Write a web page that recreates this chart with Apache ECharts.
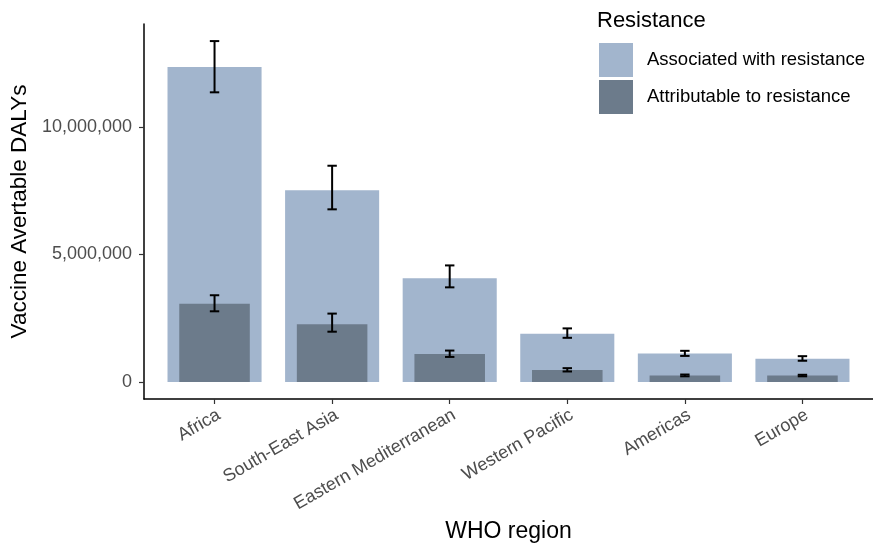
<!DOCTYPE html>
<html>
<head>
<meta charset="utf-8">
<script src="https://cdn.jsdelivr.net/npm/echarts@6/dist/echarts.min.js"></script>
<style>html,body{margin:0;padding:0;background:#fff}#c{width:873px;height:552px}</style>
</head>
<body>
<div id="c"></div>
<script>
var regions = ['Africa', 'South-East Asia', 'Eastern Mediterranean', 'Western Pacific', 'Americas', 'Europe'];
var associated = [12350000, 7520000, 4070000, 1890000, 1110000, 910000];
var associatedLow = [11360000, 6770000, 3710000, 1730000, 1020000, 830000];
var associatedHigh = [13370000, 8480000, 4570000, 2100000, 1220000, 1010000];
var attributable = [3070000, 2260000, 1100000, 470000, 250000, 250000];
var attributableLow = [2770000, 1970000, 980000, 410000, 220000, 220000];
var attributableHigh = [3400000, 2680000, 1230000, 540000, 290000, 280000];
var yTicks = [0, 5000000, 10000000];
var seriesNames = ['Associated with resistance', 'Attributable to resistance'];

var FONT = 'Liberation Sans, Arial, sans-serif';
var colAssoc = '#A2B5CD';
var colAttr = '#6C7B8B';

function barData(vals) { return vals.map(function (v, i) { return [i + 1, v]; }); }
function errData(lo, hi) { return lo.map(function (v, i) { return [i + 1, v, hi[i]]; }); }

function barRender(frac) {
  return function (params, api) {
    var x = api.value(0), v = api.value(1);
    var p0 = api.coord([x, 0]);
    var p1 = api.coord([x, v]);
    var w = api.size([frac, 0])[0];
    return {
      type: 'rect',
      shape: { x: p0[0] - w / 2, y: p1[1], width: w, height: p0[1] - p1[1] },
      style: { fill: api.visual('color') }
    };
  };
}
function errRender(params, api) {
  var x = api.value(0);
  var lo = api.coord([x, api.value(1)]);
  var hi = api.coord([x, api.value(2)]);
  var w = api.size([0.08, 0])[0];
  var st = { stroke: '#000', lineWidth: 2 };
  return {
    type: 'group',
    children: [
      { type: 'line', shape: { x1: lo[0], y1: lo[1], x2: hi[0], y2: hi[1] }, style: st },
      { type: 'line', shape: { x1: lo[0] - w / 2, y1: lo[1], x2: lo[0] + w / 2, y2: lo[1] }, style: st },
      { type: 'line', shape: { x1: hi[0] - w / 2, y1: hi[1], x2: hi[0] + w / 2, y2: hi[1] }, style: st }
    ]
  };
}

var chart = echarts.init(document.getElementById('c'), null, { renderer: 'canvas' });
chart.setOption({
  animation: false,
  backgroundColor: '#fff',
  textStyle: { fontFamily: FONT },
  title: {
    text: 'Resistance', left: 597, top: 10, padding: 0,
    textStyle: { fontFamily: FONT, fontSize: 22, fontWeight: 'normal', color: '#000' }
  },
  legend: {
    orient: 'vertical', left: 599, top: 43, padding: 0,
    itemWidth: 34, itemHeight: 34, itemGap: 3,
    data: [{ name: seriesNames[0], icon: 'rect' }, { name: seriesNames[1], icon: 'rect' }],
    textStyle: { fontFamily: FONT, fontSize: 18.5, color: '#000', padding: [0, 0, 0, 9] }
  },
  grid: { left: 142.8, top: 24, bottom: 153, width: 735.7 },
  xAxis: {
    type: 'value', min: 0.4, max: 6.6,
    name: 'WHO region', nameLocation: 'middle', nameGap: 121,
    nameTextStyle: { fontFamily: FONT, fontSize: 23, color: '#000' },
    axisLine: { show: true, onZero: false, lineStyle: { color: '#000', width: 1.5 } },
    axisTick: { show: true, customValues: [1, 2, 3, 4, 5, 6], length: 5, lineStyle: { color: '#333', width: 1.2 } },
    axisLabel: {
      customValues: [1, 2, 3, 4, 5, 6], rotate: 30, margin: 7, verticalAlign: 'top',
      fontFamily: FONT, fontSize: 18, color: '#4D4D4D',
      formatter: function (v) { return regions[Math.round(v) - 1]; }
    },
    splitLine: { show: false }
  },
  yAxis: {
    type: 'value', min: -670000, max: 14040000,
    name: 'Vaccine Avertable DALYs', nameLocation: 'middle', nameGap: 99, nameRotate: 90,
    nameTextStyle: { fontFamily: FONT, fontSize: 22.5, color: '#000' },
    axisLine: { show: true, onZero: false, lineStyle: { color: '#000', width: 1.5 } },
    axisTick: { show: true, customValues: yTicks, length: 5, lineStyle: { color: '#333', width: 1.2 } },
    axisLabel: {
      customValues: yTicks, margin: 12,
      fontFamily: FONT, fontSize: 18, color: '#4D4D4D',
      formatter: function (v) { return Math.round(v).toLocaleString('en-US'); }
    },
    splitLine: { show: false }
  },
  series: [
    { name: seriesNames[0], type: 'custom', renderItem: barRender(0.8), itemStyle: { color: colAssoc },
      encode: { x: 0, y: 1 }, data: barData(associated), z: 1 },
    { name: seriesNames[1], type: 'custom', renderItem: barRender(0.6), itemStyle: { color: colAttr },
      encode: { x: 0, y: 1 }, data: barData(attributable), z: 2 },
    { name: 'errAssoc', type: 'custom', renderItem: errRender, encode: { x: 0, y: [1, 2] },
      data: errData(associatedLow, associatedHigh), z: 3 },
    { name: 'errAttr', type: 'custom', renderItem: errRender, encode: { x: 0, y: [1, 2] },
      data: errData(attributableLow, attributableHigh), z: 3 }
  ]
});
</script>
</body>
</html>
